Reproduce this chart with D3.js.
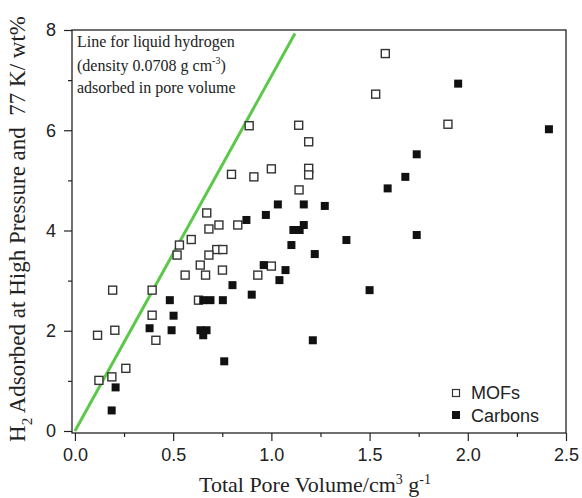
<!DOCTYPE html>
<html>
<head>
<meta charset="utf-8">
<script src="https://cdn.jsdelivr.net/npm/d3@7"></script>
<style>
  body { margin: 0; background: #fff; }
  svg { display: block; }
  .tick text { font-family: "Liberation Sans", Arial, sans-serif; font-size: 18px; fill: #222; }
  .domain { display: none; }
  .tick line { stroke: #222; stroke-width: 1.2; }
</style>
</head>
<body>
<svg id="chart" width="582" height="498"></svg>
<script>
// MOFs (open squares): pore volume cm3/g, H2 uptake wt%
var mofVolume = [0.887,1.139,0.797,0.911,0.671,0.682,0.733,0.829,0.592,0.532,0.520,0.722,0.753,0.682,0.638,0.561,0.665,0.751,0.931,0.192,0.393,0.629,0.393,0.115,0.203,0.412,0.259,0.122,0.188,1.190,1.000,1.190,1.190,1.141,1.000,1.580,1.531,1.899];
var mofUptake = [6.09,6.10,5.12,5.07,4.35,4.03,4.11,4.11,3.82,3.71,3.51,3.62,3.62,3.51,3.31,3.11,3.11,3.21,3.11,2.81,2.81,2.61,2.31,1.91,2.01,1.81,1.25,1.01,1.08,5.77,5.23,5.24,5.11,4.81,3.29,7.53,6.72,6.12];

// carbons (filled squares)
var carbonVolume = [0.873,0.802,0.483,0.653,0.690,0.753,0.900,0.502,0.380,0.492,0.639,0.670,0.653,0.760,0.207,0.187,1.740,1.682,1.592,1.033,1.165,1.272,0.972,1.112,1.144,1.165,1.102,1.382,1.740,1.221,0.961,1.072,1.041,1.500,1.211,1.951,2.413];
var carbonUptake = [4.21,2.91,2.61,2.61,2.61,2.61,2.72,2.30,2.05,2.01,2.01,2.01,1.91,1.39,0.87,0.41,5.52,5.07,4.84,4.52,4.52,4.49,4.31,4.01,4.01,4.11,3.71,3.81,3.91,3.53,3.31,3.21,3.01,2.81,1.81,6.93,6.02];

// liquid hydrogen line (0.0708 g cm-3)
var liquidVolume = [0, 1.12];
var liquidUptake = [0, 7.93];

var xMajor = [0, 0.5, 1.0, 1.5, 2.0, 2.5];
var xMinor = [0.25, 0.75, 1.25, 1.75, 2.25];
var yMajor = [0, 2, 4, 6, 8];
var yMinor = [1, 3, 5, 7];

var svg = d3.select("#chart");

var plotLeft = 72, plotRight = 566, plotTop = 30, plotBottom = 433;

var x = d3.scaleLinear().domain([-0.015, 2.5]).range([plotLeft, plotRight]);
var y = d3.scaleLinear().domain([-0.04, 8]).range([plotBottom, plotTop]);

// axes
svg.append("g")
	.attr("transform", "translate(0," + plotBottom + ")")
	.call(d3.axisBottom(x).tickValues(xMajor).tickSize(8).tickPadding(7).tickFormat(d3.format(".1f")));
svg.append("g")
	.attr("transform", "translate(0," + plotBottom + ")")
	.call(d3.axisBottom(x).tickValues(xMinor).tickSize(4).tickFormat(""));
svg.append("g")
	.attr("transform", "translate(" + plotLeft + ",0)")
	.call(d3.axisLeft(y).tickValues(yMajor).tickSize(8).tickPadding(8).tickFormat(d3.format("d")));
svg.append("g")
	.attr("transform", "translate(" + plotLeft + ",0)")
	.call(d3.axisLeft(y).tickValues(yMinor).tickSize(4).tickFormat(""));

// frame
svg.append("rect")
	.attr("x", plotLeft).attr("y", plotTop)
	.attr("width", plotRight - plotLeft).attr("height", plotBottom - plotTop)
	.attr("fill", "none").attr("stroke", "#222").attr("stroke-width", 1.3);

// liquid line
var line = d3.line().x(function(d){ return x(d[0]); }).y(function(d){ return y(d[1]); });
svg.append("path")
	.datum(d3.zip(liquidVolume, liquidUptake))
	.attr("d", line)
	.attr("fill", "none")
	.attr("stroke", "#5cc84a")
	.attr("stroke-width", 3);

var size = 8;

svg.append("g").selectAll("rect")
	.data(d3.zip(mofVolume, mofUptake))
	.enter().append("rect")
	.attr("x", function(d){ return x(d[0]) - size/2; })
	.attr("y", function(d){ return y(d[1]) - size/2; })
	.attr("width", size).attr("height", size)
	.attr("fill", "#fff")
	.attr("stroke", "#333")
	.attr("stroke-width", 1.4);

svg.append("g").selectAll("rect")
	.data(d3.zip(carbonVolume, carbonUptake))
	.enter().append("rect")
	.attr("x", function(d){ return x(d[0]) - size/2; })
	.attr("y", function(d){ return y(d[1]) - size/2; })
	.attr("width", size).attr("height", size)
	.attr("fill", "#111");

// annotation
var note = svg.append("text")
	.attr("font-family", "'Liberation Serif', 'Times New Roman', serif")
	.attr("font-size", 16)
	.attr("fill", "#222");
note.append("tspan").attr("x", 77).attr("y", 47).text("Line for liquid hydrogen");
note.append("tspan").attr("x", 77).attr("y", 71).text("(density 0.0708 g cm");
note.append("tspan").attr("dy", -7).attr("font-size", 10).text("-3");
note.append("tspan").attr("dy", 7).text(")");
note.append("tspan").attr("x", 77).attr("y", 93).text("adsorbed in pore volume");

// legend
var legend = svg.append("g")
	.attr("font-family", "'Liberation Sans', Arial, sans-serif")
	.attr("font-size", 18)
	.attr("fill", "#222");
legend.append("rect").attr("x", 452.5).attr("y", 389.5).attr("width", 7).attr("height", 7)
	.attr("fill", "#fff").attr("stroke", "#333").attr("stroke-width", 1.2);
legend.append("text").attr("x", 471).attr("y", 399).text("MOFs");
legend.append("rect").attr("x", 452).attr("y", 411).attr("width", 8).attr("height", 8).attr("fill", "#111");
legend.append("text").attr("x", 471).attr("y", 421.5).text("Carbons");

// axis titles
var xt = svg.append("text")
	.attr("x", 315).attr("y", 492)
	.attr("text-anchor", "middle")
	.attr("font-family", "'Liberation Serif', 'Times New Roman', serif")
	.attr("font-size", 22)
	.attr("fill", "#222");
xt.append("tspan").text("Total Pore Volume/cm");
xt.append("tspan").attr("dy", -8).attr("font-size", 14).text("3");
xt.append("tspan").attr("dy", 8).text(" g");
xt.append("tspan").attr("dy", -8).attr("font-size", 14).text("-1");

var yt = svg.append("text")
	.attr("transform", "translate(25,229) rotate(-90)")
	.attr("text-anchor", "middle")
	.attr("font-family", "'Liberation Serif', 'Times New Roman', serif")
	.attr("font-size", 23)
	.attr("fill", "#222")
	.attr("xml:space", "preserve");
yt.append("tspan").text("H");
yt.append("tspan").attr("dy", 7).attr("font-size", 15).text("2");
yt.append("tspan").attr("dy", -7).text(" Adsorbed at High Pressure and  77 K/ wt%");
</script>
</body>
</html>
